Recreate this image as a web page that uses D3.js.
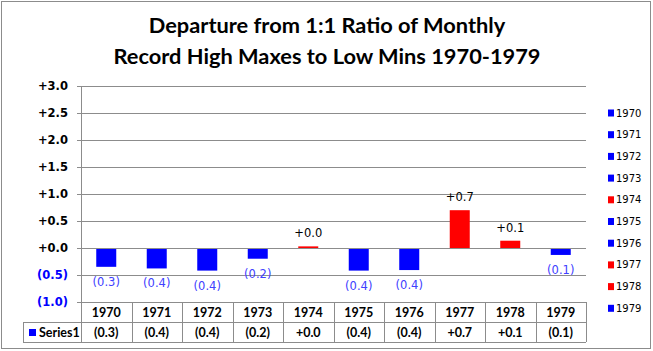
<!DOCTYPE html>
<html>
<head>
<meta charset="utf-8">
<script src="https://cdn.jsdelivr.net/npm/d3@7"></script>
<style>
  body { margin: 0; background: #fff; }
  svg { display: block; }
</style>
</head>
<body>
<div id="chart"></div>
<script>
const years = ["1970", "1971", "1972", "1973", "1974", "1975", "1976", "1977", "1978", "1979"];
const values = [-0.33, -0.36, -0.40, -0.18, 0.03, -0.40, -0.39, 0.70, 0.135, -0.11];
const yTicks = [3.0, 2.5, 2.0, 1.5, 1.0, 0.5, 0.0, -0.5, -1.0];
const seriesName = "Series1";
const titleLines = ["Departure from 1:1 Ratio of Monthly", "Record High Maxes to Low Mins 1970-1979"];

const width = 653, height = 351;
const plot = { left: 81, right: 586, top: 86, bottom: 302 };
const blue = "#0000ff", red = "#ff0000", grid = "#8c8c8c";

const fmt = v => v >= 0 ? "+" + v.toFixed(1) : "(" + Math.abs(v).toFixed(1) + ")";
const barColor = v => v >= 0 ? red : blue;

const svg = d3.select("#chart").append("svg")
    .attr("width", width)
    .attr("height", height);

// outer border
svg.append("rect")
    .attr("x", 1.5).attr("y", 1.5)
    .attr("width", 649).attr("height", 347)
    .attr("fill", "#fff")
    .attr("stroke", "#8c8c8c");

// Title
svg.append("g").selectAll("text")
    .data(titleLines)
    .join("text")
    .attr("x", 327)
    .attr("y", (d, i) => 33 + i * 31)
    .attr("text-anchor", "middle")
    .style("font-family", "Lato, 'Open Sans', sans-serif")
    .style("font-size", "21.8px")
    .style("font-weight", "bold")
    .text(d => d);

const x = d3.scaleBand()
    .domain(years)
    .range([plot.left, plot.right]);

const y = d3.scaleLinear()
    .domain([-1, 3])
    .range([plot.bottom, plot.top]);

// gridlines
svg.append("g").selectAll("line")
    .data(yTicks)
    .join("line")
    .attr("x1", plot.left - 4)
    .attr("x2", plot.right)
    .attr("y1", d => Math.round(y(d)) + 0.5)
    .attr("y2", d => Math.round(y(d)) + 0.5)
    .attr("stroke", grid);

// y axis labels
svg.append("g").selectAll("text")
    .data(yTicks)
    .join("text")
    .attr("x", 68)
    .attr("y", d => y(d) + 4)
    .attr("text-anchor", "end")
    .style("font-family", "Tahoma, 'DejaVu Sans', sans-serif")
    .style("font-size", "11.5px")
    .style("font-weight", "bold")
    .attr("fill", d => d < 0 ? blue : "#000")
    .text(fmt);

// bars
const barW = 20;
svg.append("g").selectAll("rect")
    .data(values)
    .join("rect")
    .attr("x", (d, i) => x(years[i]) + x.bandwidth() / 2 - barW / 2)
    .attr("y", d => Math.min(y(d), y(0) + 1))
    .attr("width", barW)
    .attr("height", d => Math.abs(y(d) - y(0)))
    .attr("fill", barColor);

// data labels
svg.append("g").selectAll("text")
    .data(values)
    .join("text")
    .attr("x", (d, i) => x(years[i]) + x.bandwidth() / 2)
    .attr("y", d => d >= 0 ? y(d) - 9 : y(d) + 20)
    .attr("text-anchor", "middle")
    .style("font-family", "'DejaVu Sans', Verdana, sans-serif")
    .style("font-size", "11.5px")
    .attr("fill", d => d >= 0 ? "#000" : "#4040ff")
    .text(fmt);

// vertical axis line
svg.append("line")
    .attr("x1", plot.left + 0.5).attr("x2", plot.left + 0.5)
    .attr("y1", plot.top).attr("y2", 342)
    .attr("stroke", grid);

// data table
const row1 = plot.bottom, row2 = 322, row3 = 342, tableLeft = 23;
const table = svg.append("g");

table.selectAll(".col")
    .data(years)
    .join("line")
    .attr("class", "col")
    .attr("x1", d => Math.round(x(d) + x.bandwidth()) + 0.5)
    .attr("x2", d => Math.round(x(d) + x.bandwidth()) + 0.5)
    .attr("y1", row1).attr("y2", row3)
    .attr("stroke", grid);

[row2, row3].forEach(r => {
    table.append("line")
        .attr("x1", tableLeft).attr("x2", plot.right)
        .attr("y1", r + 0.5).attr("y2", r + 0.5)
        .attr("stroke", grid);
});
table.append("line")
    .attr("x1", tableLeft + 0.5).attr("x2", tableLeft + 0.5)
    .attr("y1", row2).attr("y2", row3)
    .attr("stroke", grid);

const tableFont = "Lato, 'Open Sans', sans-serif";
table.selectAll(".yr")
    .data(years)
    .join("text")
    .attr("class", "yr")
    .attr("x", d => x(d) + x.bandwidth() / 2)
    .attr("y", row1 + 15)
    .attr("text-anchor", "middle")
    .style("font-family", tableFont)
    .style("font-size", "12.5px")
    .style("font-weight", "bold")
    .text(d => d);

table.selectAll(".val")
    .data(values)
    .join("text")
    .attr("class", "val")
    .attr("x", (d, i) => x(years[i]) + x.bandwidth() / 2)
    .attr("y", row2 + 15)
    .attr("text-anchor", "middle")
    .style("font-family", tableFont)
    .style("font-size", "12.5px")
    .style("font-weight", "bold")
    .text(fmt);

table.append("rect")
    .attr("x", 29).attr("y", 329)
    .attr("width", 7).attr("height", 7)
    .attr("fill", blue);
table.append("text")
    .attr("x", 39).attr("y", row2 + 15)
    .style("font-family", tableFont)
    .style("font-size", "12.5px")
    .style("font-weight", "bold")
    .text(seriesName);

// legend
const legend = svg.append("g")
    .selectAll("g")
    .data(years)
    .join("g")
    .attr("transform", (d, i) => `translate(608, ${113 + i * 21.7})`);

legend.append("rect")
    .attr("x", 0).attr("y", -3.5)
    .attr("width", 6).attr("height", 7)
    .attr("fill", (d, i) => barColor(values[i]));

legend.append("text")
    .attr("x", 8).attr("y", 3.5)
    .style("font-family", "Tahoma, 'DejaVu Sans', sans-serif")
    .style("font-size", "10px")
    .text(d => d);
</script>
</body>
</html>
